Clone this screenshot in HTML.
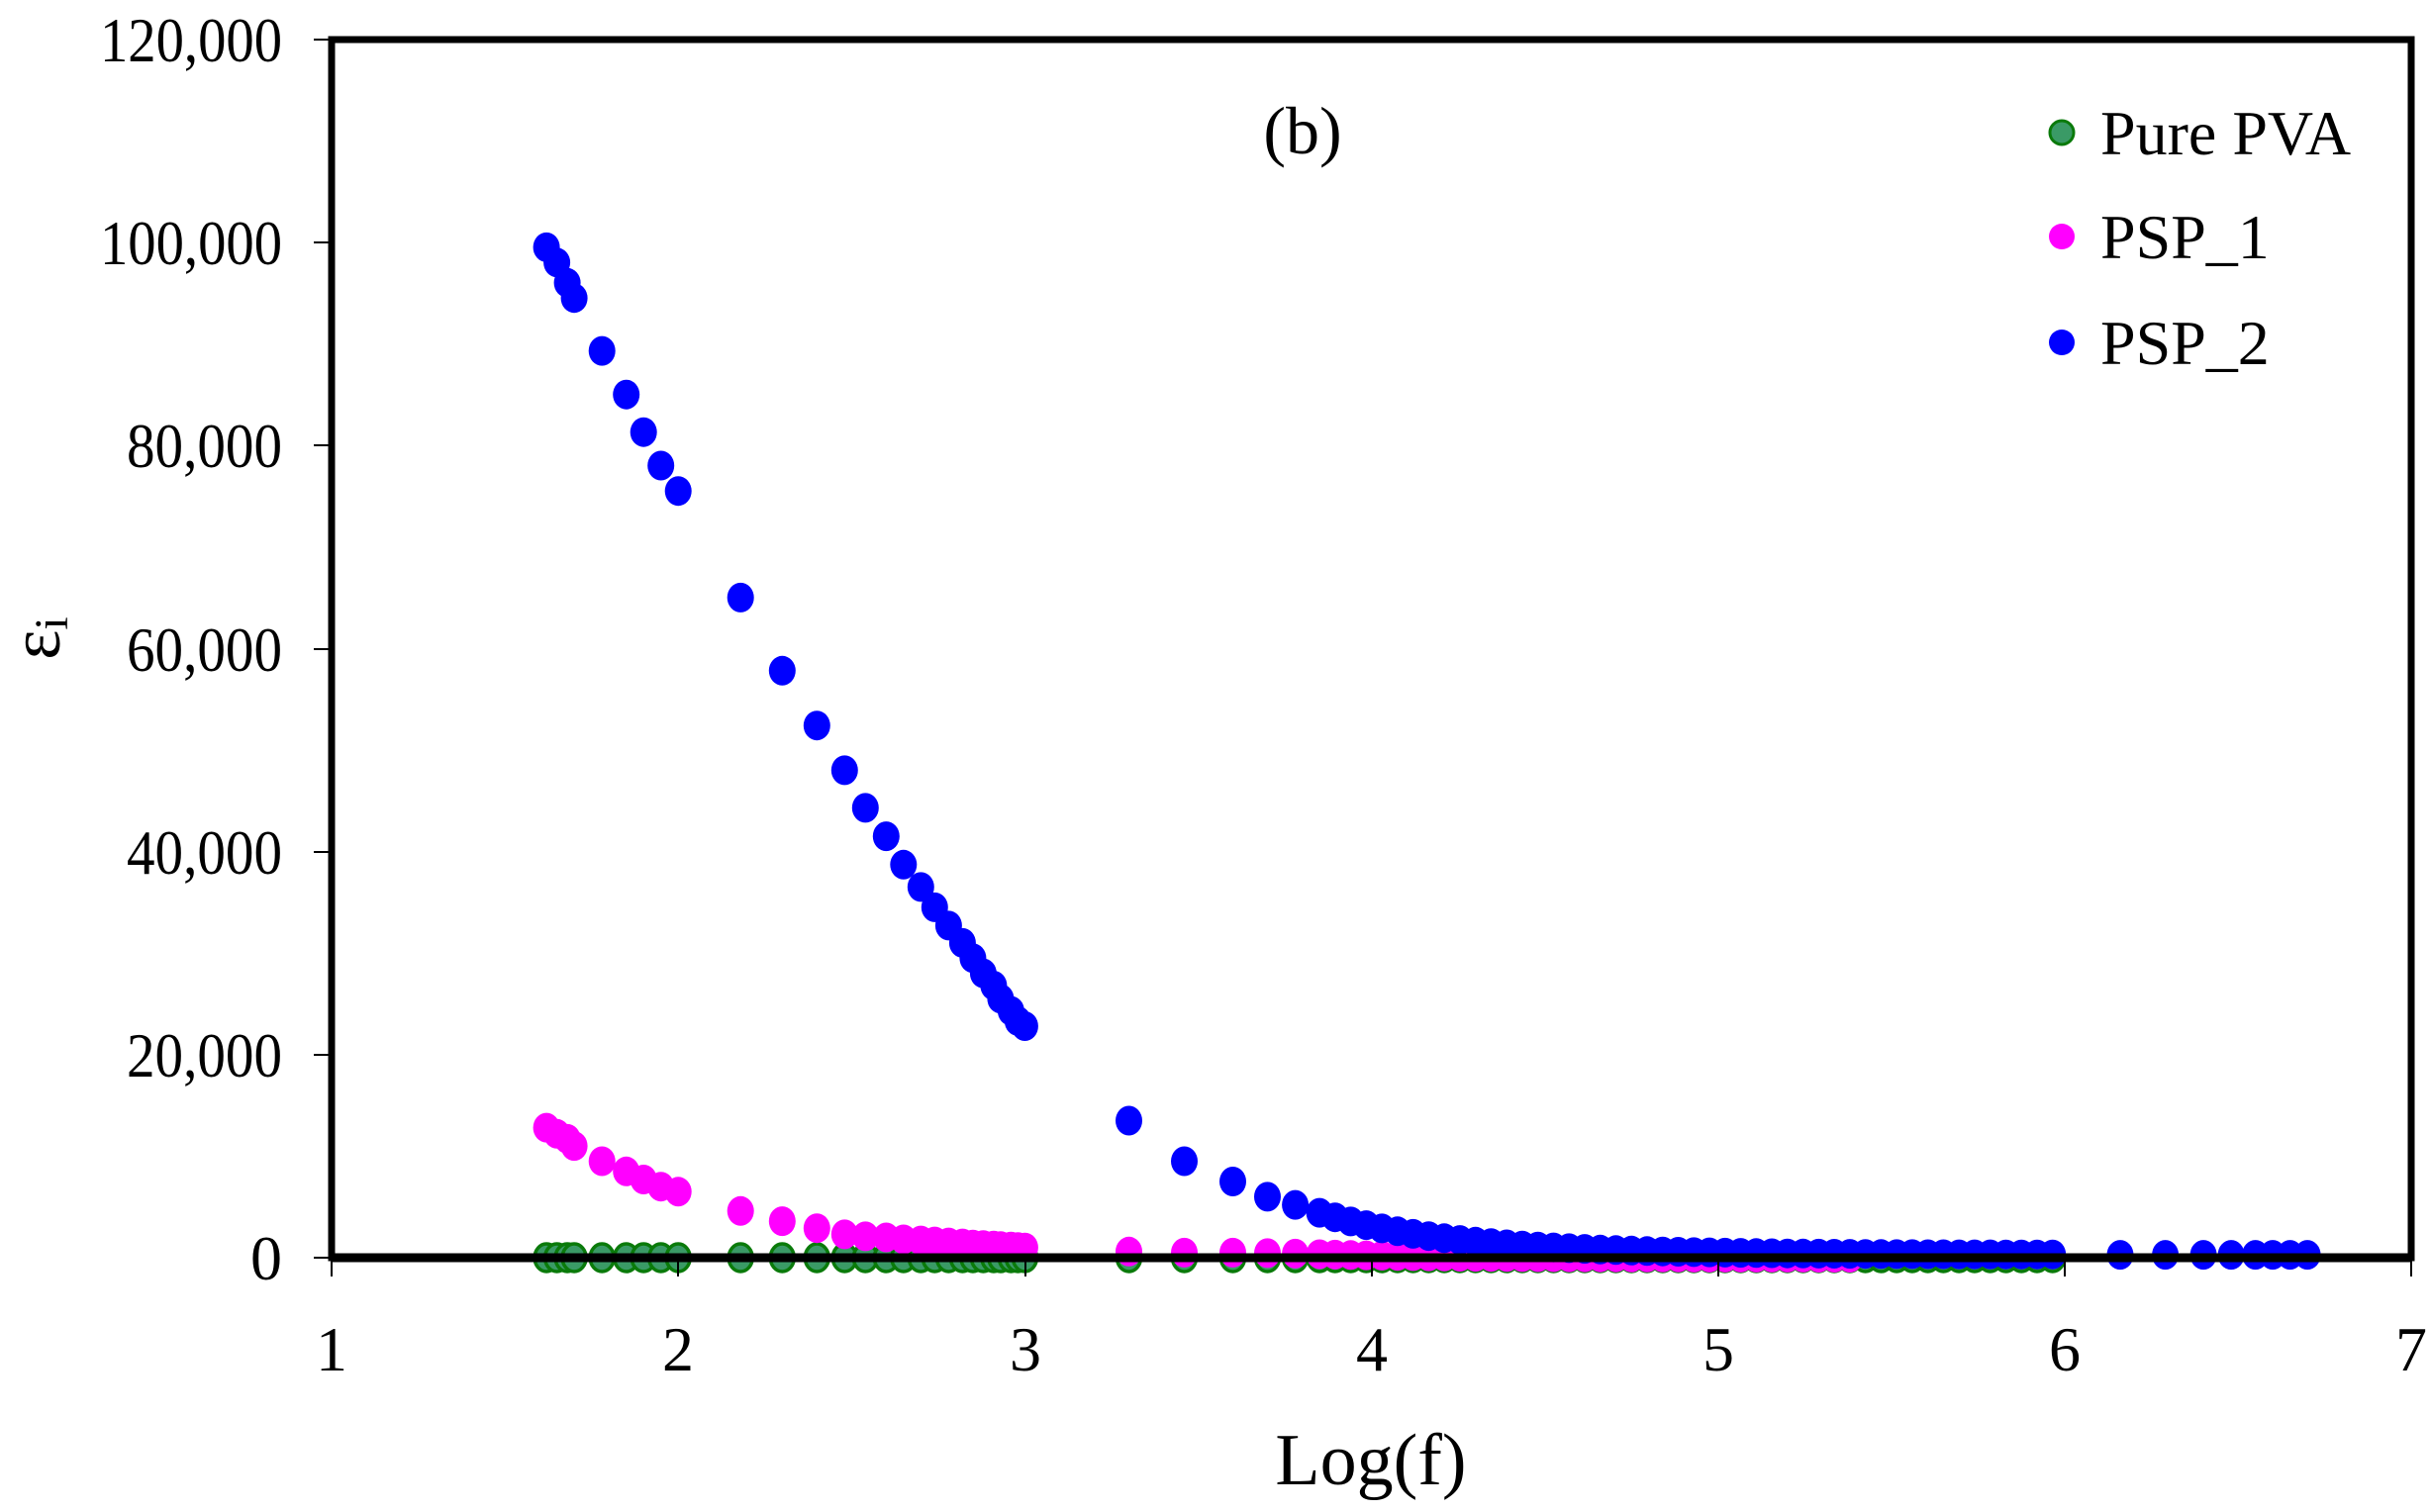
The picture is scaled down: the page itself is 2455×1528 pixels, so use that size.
<!DOCTYPE html>
<html><head><meta charset="utf-8"><style>
html,body{margin:0;padding:0;background:#fff;}
svg{display:block;font-family:"Liberation Serif",serif;}
</style></head><body>
<svg id="s" width="2455" height="1528" viewBox="0 0 2455 1528" xmlns="http://www.w3.org/2000/svg">
<rect width="2455" height="1528" fill="#fff"/>
<g id="pts"></g>
<rect x="335" y="40" width="2101" height="1231" fill="none" stroke="#000" stroke-width="7"/>
<line x1="335" y1="1271" x2="2436" y2="1271" stroke="#000" stroke-width="9"/>
<g stroke="#000" stroke-width="2">
<line x1="317" y1="40" x2="335" y2="40"/><line x1="317" y1="245" x2="335" y2="245"/>
<line x1="317" y1="450" x2="335" y2="450"/><line x1="317" y1="656" x2="335" y2="656"/>
<line x1="317" y1="861" x2="335" y2="861"/><line x1="317" y1="1066" x2="335" y2="1066"/>
<line x1="317" y1="1271" x2="335" y2="1271"/>
<line x1="335" y1="1271" x2="335" y2="1290"/><line x1="685" y1="1271" x2="685" y2="1290"/>
<line x1="1036" y1="1271" x2="1036" y2="1290"/><line x1="1386" y1="1271" x2="1386" y2="1290"/>
<line x1="1736" y1="1271" x2="1736" y2="1290"/><line x1="2086" y1="1271" x2="2086" y2="1290"/>
<line x1="2436" y1="1271" x2="2436" y2="1290"/>
</g>
<g font-size="64" text-anchor="end" fill="#000">
<text x="285" y="62" textLength="184" lengthAdjust="spacingAndGlyphs">120,000</text>
<text x="285" y="267" textLength="184" lengthAdjust="spacingAndGlyphs">100,000</text>
<text x="285" y="472" textLength="157" lengthAdjust="spacingAndGlyphs">80,000</text>
<text x="285" y="678" textLength="157" lengthAdjust="spacingAndGlyphs">60,000</text>
<text x="285" y="883" textLength="157" lengthAdjust="spacingAndGlyphs">40,000</text>
<text x="285" y="1088" textLength="157" lengthAdjust="spacingAndGlyphs">20,000</text>
<text x="285" y="1293">0</text>
</g>
<g font-size="64" text-anchor="middle" fill="#000">
<text x="335" y="1385">1</text><text x="685" y="1385">2</text><text x="1036" y="1385">3</text>
<text x="1386" y="1385">4</text><text x="1736" y="1385">5</text><text x="2086" y="1385">6</text>
<text x="2436" y="1385">7</text>
</g>
<text x="1385" y="1500" font-size="74" text-anchor="middle">Log(f)</text>
<text x="1316" y="155" font-size="68" text-anchor="middle">(b)</text>
<text transform="translate(60,645) rotate(-90)" font-size="72" text-anchor="middle">ε<tspan font-size="48" dy="8">i</tspan></text>
<circle cx="2083" cy="134" r="12" fill="#3a9a66" stroke="#0a7a0a" stroke-width="3"/>
<circle cx="2083" cy="239" r="13" fill="#ff00ff"/>
<circle cx="2083" cy="346" r="13" fill="#0000ff"/>
<g font-size="64" fill="#000">
<text x="2122" y="156">Pure PVA</text><text x="2122" y="261">PSP_1</text><text x="2122" y="368">PSP_2</text>
</g>
</svg>
<script>
var X=function(x){return 335+(x-1)*350.2;}, Y=function(v){return 1271-v*205.25/20000;};
var low=[1.62,1.65,1.68,1.7,1.78,1.85,1.9,1.95,2.0,2.18,2.3,2.4,2.48,2.54,2.6,2.65,2.7,2.74,2.78,2.82,2.85,2.88,2.91,2.93,2.96,2.98,3.0];
var blue=[99.5,98,96,94.5,89.3,85,81.3,78,75.5,65,57.8,52.4,48,44.3,41.5,38.7,36.5,34.5,32.7,31,29.5,28,26.8,25.5,24.3,23.3,22.8];
var pink=[12.8,12.2,11.7,11,9.5,8.5,7.7,7,6.5,4.6,3.6,2.9,2.3,2.1,2.0,1.8,1.7,1.6,1.5,1.4,1.3,1.25,1.2,1.15,1.1,1.05,1.0];
var g='',p='',b='';
function c(x,v,col,extra){return '<ellipse cx="'+X(x).toFixed(1)+'" cy="'+Y(v).toFixed(1)+'" rx="13.5" ry="15" fill="'+col+'"'+(extra||'')+'/>';}
var mid=[3.3,3.46,3.6,3.7,3.78];var bm=[13.5,9.5,7.5,6,5.2];var pm=[0.6,0.5,0.5,0.45,0.4];
var dense=[];for(var x=3.85;x<=6.001;x+=0.045)dense.push(x);
var tail=[6.16,6.29,6.4,6.48,6.55,6.6,6.65,6.7];
low.concat(mid,dense).forEach(function(x){g+='<ellipse cx="'+X(x).toFixed(1)+'" cy="'+Y(0)+'" rx="12" ry="14" fill="#3a9a66" stroke="#0a7a0a" stroke-width="3.5"/>';});
low.forEach(function(x,i){p+=c(x,pink[i]*1000,'#ff00ff');});
mid.forEach(function(x,i){p+=c(x,pm[i]*1000,'#ff00ff');});
dense.forEach(function(x){if(x<=5.4)p+=c(x,Math.max(0,400*Math.exp(-(x-3.8)*3)),'#ff00ff');});
low.forEach(function(x,i){b+=c(x,blue[i]*1000,'#0000ff');});
mid.forEach(function(x,i){b+=c(x,bm[i]*1000,'#0000ff');});
dense.forEach(function(x){b+=c(x,300+4700*Math.exp(-(x-3.8)*2.6),'#0000ff');});
tail.forEach(function(x){b+=c(x,280,'#0000ff');});
document.getElementById('pts').innerHTML=g+p+b;
</script>
</body></html>
